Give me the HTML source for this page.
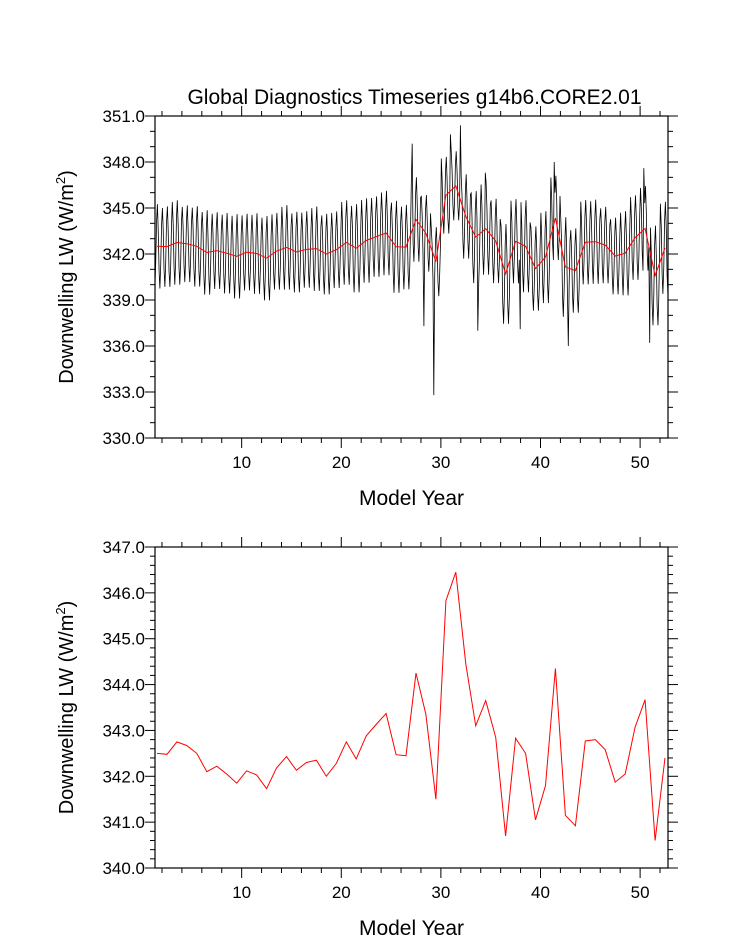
<!DOCTYPE html>
<html><head><meta charset="utf-8"><style>
body{margin:0;background:#fff}
svg{display:block;font-family:"Liberation Sans",sans-serif}
</style></head><body>
<svg id="c" width="733" height="945" viewBox="0 0 733 945"></svg>
<script>
const annualYears=[1.5,2.5,3.5,4.5,5.5,6.5,7.5,8.5,9.5,10.5,11.5,12.5,13.5,14.5,15.5,16.5,17.5,18.5,19.5,20.5,21.5,22.5,23.5,24.5,25.5,26.5,27.5,28.5,29.5,30.5,31.5,32.5,33.5,34.5,35.5,36.5,37.5,38.5,39.5,40.5,41.5,42.5,43.5,44.5,45.5,46.5,47.5,48.5,49.5,50.5,51.5,52.5];
const annualLW=[342.5,342.48,342.75,342.67,342.5,342.1,342.22,342.05,341.85,342.12,342.03,341.73,342.18,342.43,342.13,342.3,342.35,342.0,342.28,342.75,342.38,342.88,343.13,343.37,342.47,342.45,344.25,343.35,341.5,345.83,346.45,344.45,343.1,343.65,342.85,340.7,342.83,342.5,341.05,341.8,344.35,341.15,340.92,342.77,342.8,342.58,341.87,342.05,343.07,343.67,340.6,342.4];
const seasonalAnom=[2.4,1.1,-1.4,-2.5,-1.0,1.5,2.5,1.0,-1.5,-2.5,-1.1,1.3];
const yearAmp=[1.1,1.05,1.1,1.0,1.05,1.1,1.0,1.05,1.1,1.0,1.05,1.1,1.0,1.1,1.05,1.0,1.1,1.05,1.0,1.1,1.15,1.1,1.05,1.1,1.2,1.1,1.1,1.0,0.9,1.0,0.9,1.1,1.2,1.2,1.1,1.3,1.1,1.2,1.1,1.2,1.1,1.3,1.1,1.1,1.1,1.0,1.0,1.1,1.1,1.1,1.3,1.2];
const monthOverrides=[[313,349.2],[327,337.3],[339,332.8],[359,349.8],[371,350.4],[392,337.0],[401,347.3],[443,337.1],[484,348.0],[501,336.0],[599,336.2],[592,347.6]];
const xTicks=[10,20,30,40,50];
const topYTicks=[330,333,336,339,342,345,348,351];
const botYTicks=[340,341,342,343,344,345,346,347];

const NS="http://www.w3.org/2000/svg";
const svgEl=document.getElementById('c');
function mk(tag,attrs,parent){const e=document.createElementNS(NS,tag);for(const k in attrs)e.setAttribute(k,attrs[k]);(parent||svgEl).appendChild(e);return e;}
const X0=155,X1=668,XD0=1.3,XD1=52.8;
const xs=v=>X0+(v-XD0)/(XD1-XD0)*(X1-X0);

const monthT=[],monthV=[];
for(let i=0;i<624;i++){const y=Math.floor(i/12);monthT.push(1+(i+0.5)/12);monthV.push(annualLW[y]+seasonalAnom[i%12]*yearAmp[y]);}
monthOverrides.forEach(o=>{monthV[o[0]]=o[1];});

function panel(id,Y0,Y1,d0,d1,yt,minorStep,title){
  const ys=v=>Y1-(v-d0)/(d1-d0)*(Y1-Y0);
  const g=mk('g',{});
  
  
  const cp=mk('clipPath',{id:id+'clip'},g);mk('rect',{x:X0,y:Y0,width:X1-X0,height:Y1-Y0},cp);
  for(let v=d0;v<=d1+1e-6;v+=minorStep){const y=ys(v);const maj=yt.some(t=>Math.abs(t-v)<1e-6);const L=maj?10:5;
    mk('line',{x1:X0-L,x2:X0,y1:y,y2:y,stroke:'#000','stroke-width':1},g);mk('line',{x1:X1,x2:X1+L,y1:y,y2:y,stroke:'#000','stroke-width':1},g);}
  for(let v=2;v<=52;v+=2){const x=xs(v);const maj=v%10==0;const L=maj?10:5;
    mk('line',{x1:x,x2:x,y1:Y0-L,y2:Y0,stroke:'#000'},g);mk('line',{x1:x,x2:x,y1:Y1,y2:Y1+L,stroke:'#000'},g);}
  yt.forEach(v=>{const t=mk('text',{x:X0-10,y:ys(v)+6,'text-anchor':'end','font-size':17},g);t.textContent=v.toFixed(1);
    });
  xTicks.forEach(v=>{const t=mk('text',{x:xs(v),y:Y1+30,'text-anchor':'middle','font-size':17},g);t.textContent=v;
    });
  const xt=mk('text',{x:(X0+X1)/2,y:Y1+67,'text-anchor':'middle','font-size':21},g);xt.textContent='Model Year';
  
  const yc=(Y0+Y1)/2;
  const yl=mk('text',{x:0,y:0,'text-anchor':'middle','font-size':20,transform:`translate(73,${yc}) rotate(-90)`},g);
  yl.innerHTML='Downwelling LW (W/m<tspan dy="-8" font-size="13">2</tspan><tspan dy="8">)</tspan>';
  
  if(title){const t=mk('text',{x:(X0+X1)/2+3,y:104,'text-anchor':'middle','font-size':21},g);t.textContent=title;
    }
  return {g,ys};
}
const topPanel=panel('top',116,438,330,351,topYTicks,1,'Global Diagnostics Timeseries g14b6.CORE2.01');
let pts=monthT.map((t,i)=>xs(t).toFixed(1)+','+topPanel.ys(monthV[i]).toFixed(1)).join(' ');
const ml=mk('polyline',{points:pts,fill:'none',stroke:'#000','stroke-width':0.8,'clip-path':'url(#topclip)'},topPanel.g);


pts=annualYears.map((t,i)=>xs(t).toFixed(1)+','+topPanel.ys(annualLW[i]).toFixed(1)).join(' ');
const al=mk('polyline',{points:pts,fill:'none',stroke:'#f00','stroke-width':1,'clip-path':'url(#topclip)'},topPanel.g);


mk('rect',{x:X0,y:116,width:X1-X0,height:322,fill:'none',stroke:'#000','stroke-width':1.2},topPanel.g);

const botPanel=panel('bottom',547,868,340,347,botYTicks,0.2,null);
pts=annualYears.map((t,i)=>xs(t).toFixed(1)+','+botPanel.ys(annualLW[i]).toFixed(1)).join(' ');
const bl=mk('polyline',{points:pts,fill:'none',stroke:'#f00','stroke-width':1,'clip-path':'url(#bottomclip)'},botPanel.g);


mk('rect',{x:X0,y:547,width:X1-X0,height:321,fill:'none',stroke:'#000','stroke-width':1.2},botPanel.g);
</script>
</body></html>
